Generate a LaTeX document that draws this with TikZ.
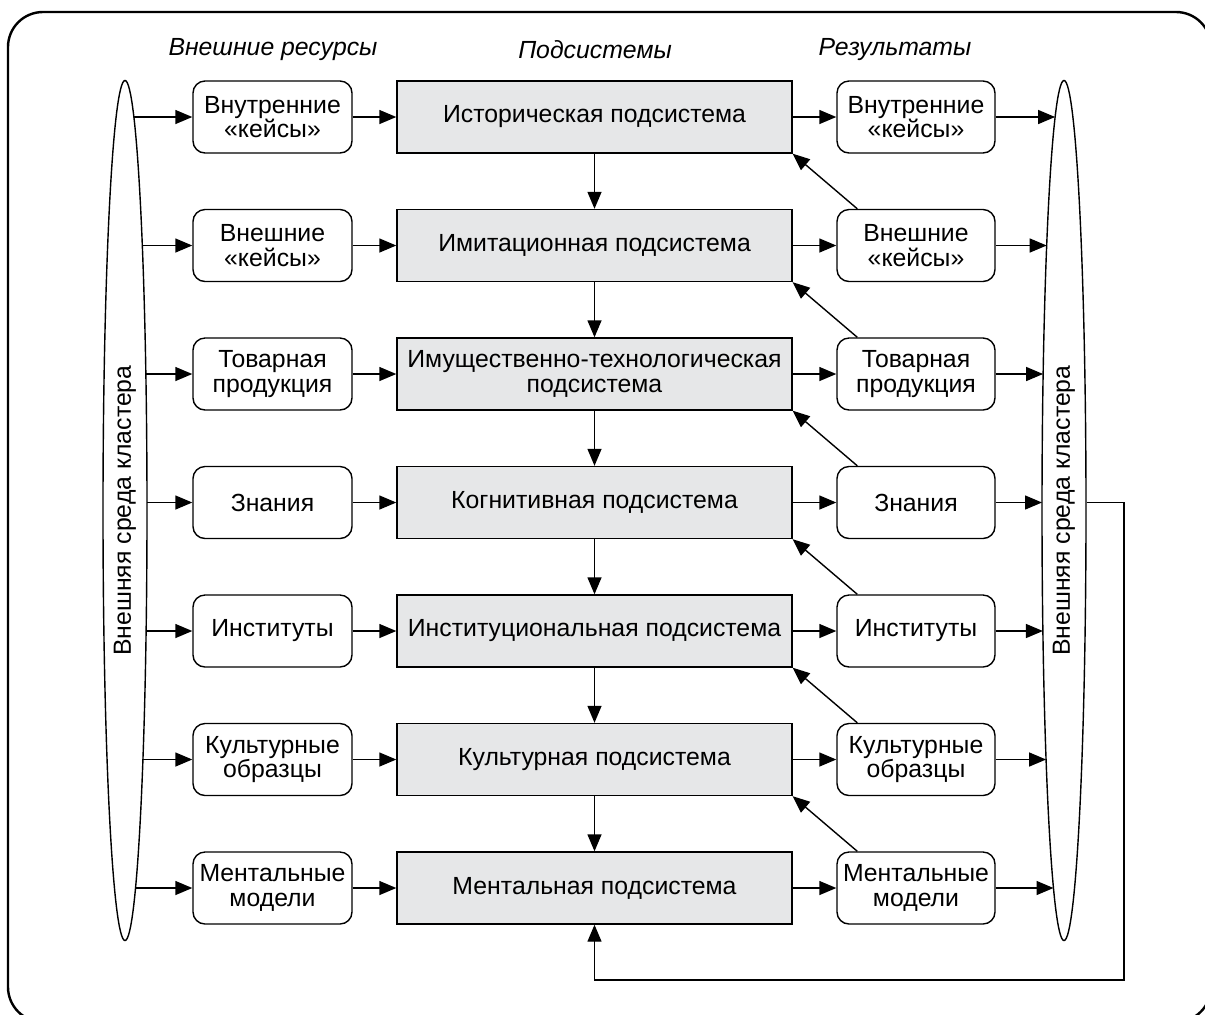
\documentclass[tikz,border=0pt]{standalone}
\usepackage{fontspec}
\setmainfont{Liberation Sans}
\usetikzlibrary{arrows.meta,shapes.geometric}
\definecolor{subgray}{RGB}{230,231,232}
\begin{document}
\begin{tikzpicture}[x=0.5pt,y=-0.5pt,
  font=\fontsize{12.4}{12.2}\selectfont,
  ln/.style={line width=0.7pt, draw=black},
  arr/.style={ln, -{Triangle[length=8.5pt,width=7pt]}},
  srcbox/.style={ln, rounded corners=6pt, minimum width=79.5pt, minimum height=36pt, align=center, inner sep=0pt},
  resbox/.style={srcbox, minimum width=79pt},
  subbox/.style={ln, fill=subgray, minimum width=197.5pt, minimum height=36pt, align=center, inner sep=0pt},
  envell/.style={ln, ellipse, minimum width=22pt, minimum height=430pt, inner sep=0pt},
  hdr/.style={font=\fontsize{12.4}{12.2}\selectfont\itshape}
]
\useasboundingbox (0,0) rectangle (1205,1014);
\draw[line width=1.2pt, rounded corners=17.5pt] (8,12) rectangle (1211,1022);

\node[hdr] (h1) at (273,50) {Внешние ресурсы};
\node[hdr] (h2) at (595,50) {Подсистемы};
\node[hdr] (h3) at (895,50) {Результаты};

\node[envell] (eL) at (125,510.5) {};
\node[rotate=90] (tL) at (125,510.5) {Внешняя среда кластера};
\node[envell] (eR) at (1064,510.5) {};
\node[rotate=90] (tR) at (1064,510.5) {Внешняя среда кластера};

\foreach \i/\y/\a/\b/\dx in {
  1/117/{Внутренние\\«кейсы»}/{Историческая подсистема}/8.9,
  2/245.5/{Внешние\\«кейсы»}/{Имитационная подсистема}/17.3,
  3/374/{Товарная\\продукция}/{Имущественно-технологическая\\подсистема}/20.9,
  4/502.5/{Знания}/{Когнитивная подсистема}/22,
  5/631/{Институты}/{Институциональная подсистема}/21.1,
  6/759.5/{Культурные\\образцы}/{Культурная подсистема}/17.9,
  7/888/{Ментальные\\модели}/{Ментальная подсистема}/10.5}{
  \node[srcbox] (a\i) at (272.5,\y) {\a};
  \node[subbox] (s\i) at (594.5,\y) {\b};
  \node[resbox] (r\i) at (916,\y) {\a};
  \coordinate (lo\i) at (125+\dx,\y);
  \coordinate (ri\i) at (1064-\dx,\y);
  \draw[arr] (lo\i) -- (a\i.west);
  \draw[arr] (a\i.east) -- (s\i.west);
  \draw[arr] (s\i.east) -- (r\i.west);
  \draw[arr] (r\i.east) -- (ri\i);
}
\foreach \i [evaluate=\i as \j using int(\i+1)] in {1,...,6}{
  \draw[arr] (s\i.south) -- (s\j.north);
  \draw[arr] ([xshift=10.5pt]r\j.north west) -- (s\i.south east);
}
\draw[arr] (eR.east |- s4) -| (1124,980) -| (s7.south);
\end{tikzpicture}
\end{document}
